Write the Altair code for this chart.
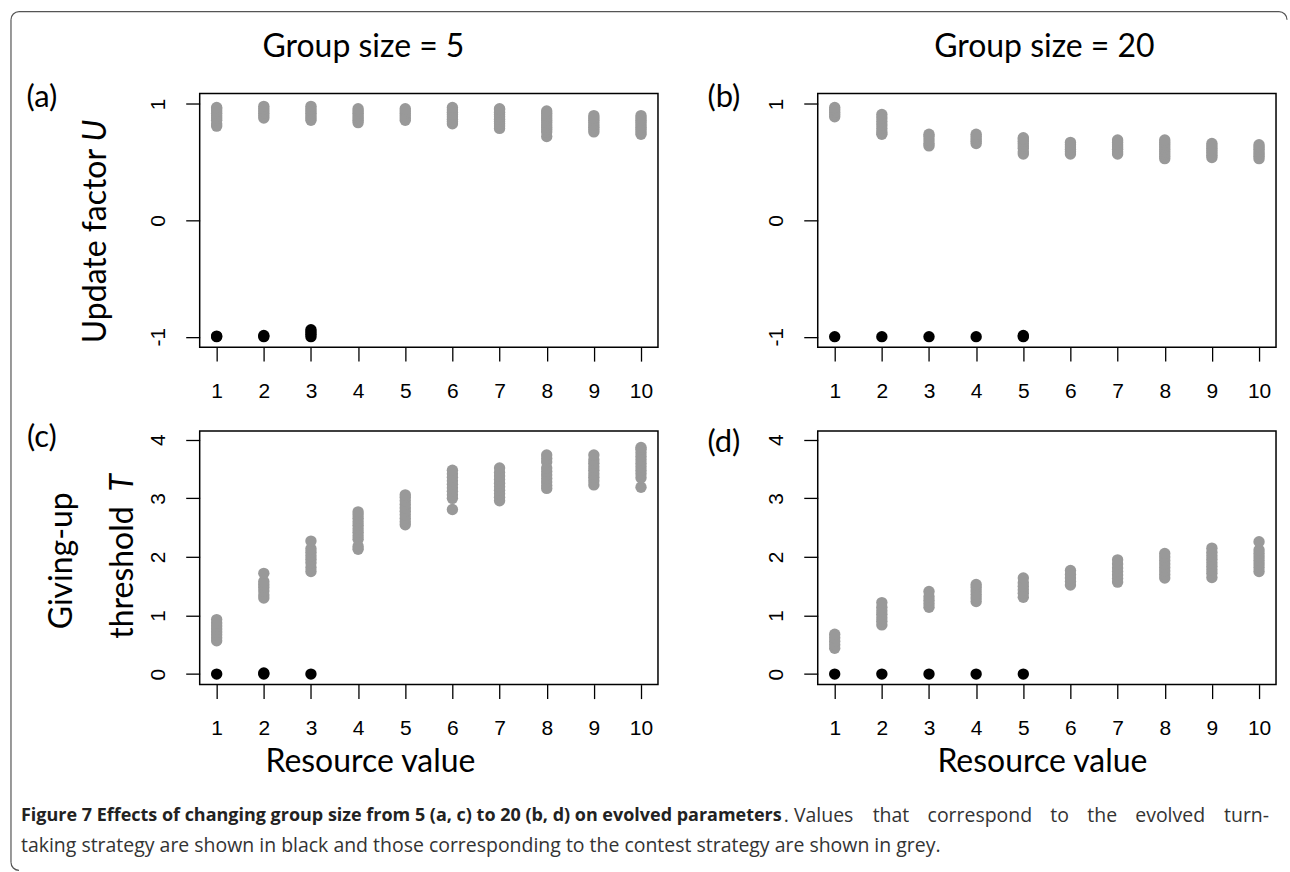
import altair as alt
import pandas as pd

resource = list(range(1, 11))
u_ticks = [-1, 0, 1]
t_ticks = [0, 1, 2, 3, 4]

# (a) Update factor U, group size 5 - contest strategy (grey), per resource value 1..10
u5_grey = [
    [0.81, 0.83, 0.86, 0.88, 0.90, 0.92, 0.94, 0.96, 0.97],
    [0.88, 0.90, 0.92, 0.94, 0.96, 0.98],
    [0.86, 0.88, 0.90, 0.92, 0.94, 0.96, 0.98],
    [0.84, 0.86, 0.88, 0.90, 0.92, 0.94, 0.96],
    [0.86, 0.88, 0.90, 0.92, 0.94, 0.96],
    [0.83, 0.85, 0.87, 0.89, 0.91, 0.93, 0.95, 0.97],
    [0.79, 0.81, 0.83, 0.85, 0.87, 0.89, 0.91, 0.93, 0.95, 0.96],
    [0.72, 0.76, 0.78, 0.80, 0.82, 0.84, 0.86, 0.88, 0.90, 0.92, 0.94],
    [0.76, 0.78, 0.80, 0.82, 0.84, 0.86, 0.88, 0.90],
    [0.74, 0.76, 0.78, 0.80, 0.82, 0.84, 0.86, 0.88, 0.90],
]
# turn-taking strategy (black), resource values 1..3
u5_black = [[-1.0, -0.995], [-1.0, -0.99], [-1.0, -0.98, -0.96, -0.94]]

# (b) Update factor U, group size 20
u20_grey = [
    [0.89, 0.91, 0.93, 0.95, 0.97],
    [0.74, 0.76, 0.79, 0.82, 0.85, 0.88, 0.91],
    [0.64, 0.66, 0.69, 0.72, 0.74],
    [0.66, 0.68, 0.70, 0.72, 0.74],
    [0.57, 0.59, 0.62, 0.64, 0.66, 0.68, 0.70, 0.71],
    [0.57, 0.59, 0.61, 0.63, 0.65, 0.67],
    [0.57, 0.59, 0.61, 0.63, 0.65, 0.67, 0.69],
    [0.53, 0.55, 0.57, 0.59, 0.61, 0.63, 0.65, 0.67, 0.69],
    [0.54, 0.56, 0.58, 0.60, 0.62, 0.64, 0.66],
    [0.53, 0.55, 0.57, 0.59, 0.61, 0.63, 0.65],
]
u20_black = [[-1.0], [-1.0], [-1.0], [-1.0], [-1.0, -0.99]]

# (c) Giving-up threshold T, group size 5
t5_grey = [
    [0.57, 0.62, 0.67, 0.72, 0.77, 0.82, 0.87, 0.93],
    [1.30, 1.35, 1.42, 1.48, 1.53, 1.58, 1.72],
    [1.75, 1.82, 1.90, 1.96, 2.02, 2.08, 2.14, 2.27],
    [2.13, 2.18, 2.30, 2.36, 2.42, 2.48, 2.54, 2.60, 2.66, 2.72, 2.77],
    [2.55, 2.60, 2.66, 2.72, 2.78, 2.84, 2.90, 2.96, 3.02, 3.06],
    [2.81, 3.00, 3.06, 3.12, 3.18, 3.24, 3.30, 3.36, 3.42, 3.48],
    [2.96, 3.02, 3.08, 3.14, 3.20, 3.26, 3.32, 3.38, 3.44, 3.52],
    [3.17, 3.22, 3.28, 3.34, 3.40, 3.46, 3.52, 3.62, 3.68, 3.74],
    [3.23, 3.30, 3.36, 3.42, 3.48, 3.54, 3.60, 3.66, 3.74],
    [3.19, 3.35, 3.42, 3.48, 3.54, 3.60, 3.66, 3.72, 3.78, 3.84, 3.87],
]
t5_black = [[0.0], [0.0, 0.02], [0.0]]

# (d) Giving-up threshold T, group size 20
t20_grey = [
    [0.44, 0.50, 0.56, 0.62, 0.68],
    [0.84, 0.90, 0.96, 1.02, 1.08, 1.14, 1.22],
    [1.14, 1.20, 1.26, 1.32, 1.41],
    [1.24, 1.30, 1.36, 1.42, 1.48, 1.53],
    [1.31, 1.38, 1.44, 1.50, 1.56, 1.64],
    [1.52, 1.58, 1.64, 1.70, 1.77],
    [1.57, 1.63, 1.69, 1.75, 1.81, 1.88, 1.95],
    [1.64, 1.70, 1.76, 1.82, 1.88, 1.94, 2.00, 2.06],
    [1.65, 1.72, 1.78, 1.84, 1.90, 1.96, 2.02, 2.08, 2.15],
    [1.75, 1.82, 1.88, 1.94, 2.00, 2.06, 2.12, 2.26],
]
t20_black = [[0.0], [0.0], [0.0], [0.0], [0.0]]

caption_bold = "Figure 7 Effects of changing group size from 5 (a, c) to 20 (b, d) on evolved parameters"
caption_words_1 = [". Values", "that", "correspond", "to", "the", "evolved", "turn-"]
caption_line_2 = ("taking strategy are shown in black and those corresponding to the contest "
                  "strategy are shown in grey.")

rows = []
for key, grey, black in [("a", u5_grey, u5_black), ("b", u20_grey, u20_black),
                         ("c", t5_grey, t5_black), ("d", t20_grey, t20_black)]:
    for i, vals in enumerate(grey):
        for v in vals:
            rows.append({"panel": key, "resource": resource[i], "value": v, "strategy": "contest"})
    for i, vals in enumerate(black):
        for v in vals:
            rows.append({"panel": key, "resource": resource[i], "value": v, "strategy": "turn-taking"})
df = pd.DataFrame(rows)

W, H = 459, 254
LABEL_FONT = "Liberation Sans"
BIG_FONT = "Lato"


def txt(s, x, y, size=32, angle=0, align="center", baseline="middle", style="normal",
        weight="normal", font=BIG_FONT, color="black"):
    return alt.Chart(pd.DataFrame({"t": [s]})).mark_text(
        fontSize=size, angle=angle, align=align, baseline=baseline, fontStyle=style,
        fontWeight=weight, font=font, color=color
    ).encode(text="t:N", x=alt.value(x), y=alt.value(y))


def hline(x1, x2, y):
    return alt.Chart(pd.DataFrame({"k": [0]})).mark_rule(color="#555555", strokeWidth=1.2).encode(
        x=alt.value(x1), x2=alt.value(x2), y=alt.value(y))


def vline(x, y1, y2):
    return alt.Chart(pd.DataFrame({"k": [0]})).mark_rule(color="#555555", strokeWidth=1.2).encode(
        x=alt.value(x), y=alt.value(y1), y2=alt.value(y2))


def corner(cx, cy, t1, t2):
    return alt.Chart(pd.DataFrame({"k": [0]})).mark_arc(color="#555555").encode(
        x=alt.value(cx), y=alt.value(cy), theta=alt.value(t1), theta2=alt.value(t2),
        radius=alt.value(8.6), radius2=alt.value(7.4))


def panel(key, ydomain, yticks, extras):
    pts = alt.Chart(df[df.panel == key]).mark_circle(size=130, opacity=1).encode(
        x=alt.X("resource:Q",
                scale=alt.Scale(domain=[0.64, 10.36], nice=False, zero=False),
                axis=alt.Axis(values=resource, title=None, grid=False, domain=False,
                              tickColor="black", tickWidth=1.3, tickSize=14,
                              labelFont=LABEL_FONT, labelFontSize=21, labelColor="black",
                              labelPadding=19, labelFlush=False)),
        y=alt.Y("value:Q",
                scale=alt.Scale(domain=ydomain, nice=False, zero=False),
                axis=alt.Axis(values=yticks, title=None, grid=False, domain=False,
                              tickColor="black", tickWidth=1.3, tickSize=14,
                              labelFont=LABEL_FONT, labelFontSize=21, labelColor="black",
                              labelAngle=270, labelAlign="center", labelBaseline="bottom",
                              labelPadding=17, labelFlush=False,
                              labelExpr="'' + datum.value")),
        color=alt.Color("strategy:N",
                        scale=alt.Scale(domain=["contest", "turn-taking"],
                                        range=["#999999", "#000000"]),
                        legend=None),
    )
    return alt.layer(pts, *extras).properties(width=W, height=H)


extras_a = [
    txt("Group size = 5", 164, -47),
    txt("(a)", -158, 4, size=31),
    txt("Update factor", -94, 250, angle=270, align="left", baseline="alphabetic"),
    txt("U", -94, 26, angle=270, align="right", baseline="alphabetic", style="italic"),
    hline(-181, 1081, -82),
    vline(-189, -74, 770),
    corner(-181, -74, 4.712, 6.283),
    corner(-181, 770, 3.1416, 4.712),
    corner(1081, -74, 0.0, 1.5708),
]
extras_b = [
    txt("Group size = 20", 227, -47),
    txt("(b)", -94, 4, size=31),
]

# justified first caption line: word start offsets (relative to panel c origin)
word_x = [585, 674, 729, 852, 889, 937]
caption_marks = [
    txt(caption_bold, -179, 386, size=18, align="left", weight="bold", font="Open Sans",
        color="#222222"),
]
for w, x in zip(caption_words_1[:-1], word_x):
    caption_marks.append(txt(w, x, 386, size=19.5, align="left", font="Open Sans", color="#333333"))
caption_marks.append(txt(caption_words_1[-1], 1071, 386, size=19.5, align="right",
                         font="Open Sans", color="#333333"))
caption_marks.append(txt(caption_line_2, -179, 416, size=19.5, align="left", font="Open Sans",
                         color="#333333"))

extras_c = [
    txt("(c)", -158, 7, size=31),
    txt("Giving-up", -128, 130, angle=270, align="center", baseline="alphabetic"),
    txt("threshold", -67, 208, angle=270, align="left", baseline="alphabetic"),
    txt("T", -67, 43, angle=270, align="right", baseline="alphabetic", style="italic"),
    txt("Resource value", 171, 332),
] + caption_marks
extras_d = [
    txt("(d)", -94, 12, size=31),
    txt("Resource value", 225, 332),
]

pa = panel("a", [-1.09, 1.09], u_ticks, extras_a)
pb = panel("b", [-1.09, 1.09], u_ticks, extras_b)
pc = panel("c", [-0.18, 4.15], t_ticks, extras_c)
pd_ = panel("d", [-0.18, 4.15], t_ticks, extras_d)

chart = alt.concat(pa, pb, pc, pd_, columns=2, spacing={"row": 84, "column": 160},
                   bounds="flush").properties(
    padding={"left": 9, "top": 9, "right": 1, "bottom": 1},
    background="white",
).configure_view(stroke="black", strokeWidth=1.5)

chart.save("out.html", embed_options={"renderer": "svg", "actions": False})
